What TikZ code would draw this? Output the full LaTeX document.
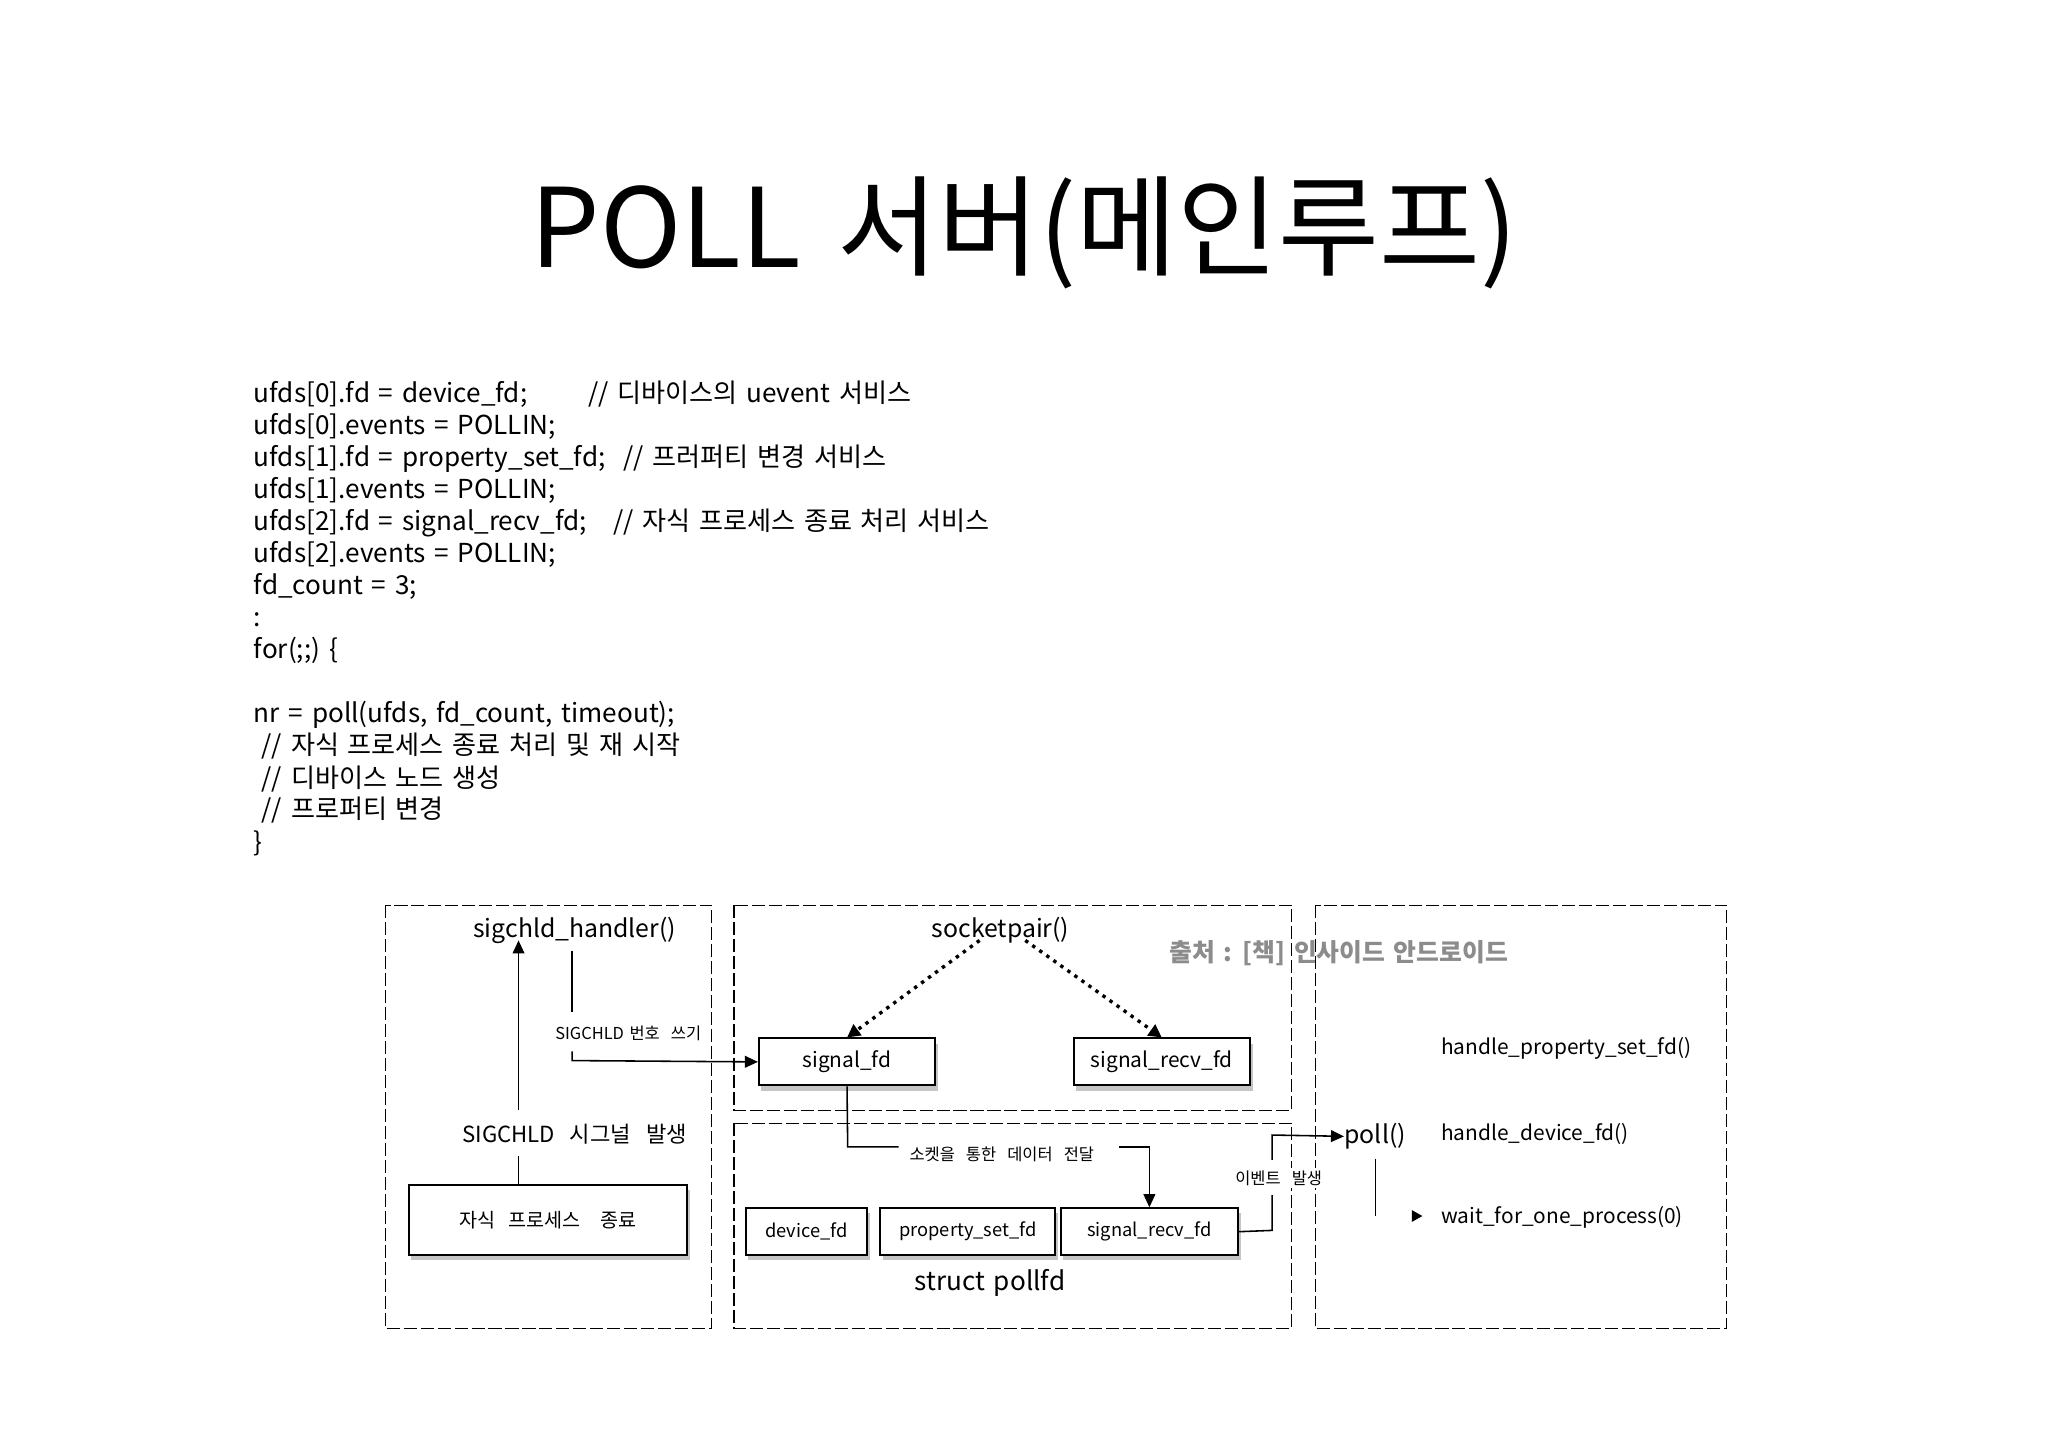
\documentclass[tikz,border=0pt]{standalone}
\usepackage{fontspec}
\setmainfont[WordSpace=1.5]{Noto Sans CJK KR}
\usetikzlibrary{shadows,arrows.meta}
\begin{document}
\begin{tikzpicture}[x=0.5pt,y=-0.5pt,
  grp/.style={draw,dash pattern=on 5pt off 1.5pt,line width=0.5pt},
  fdbox/.style={draw,fill=white,line width=0.7pt,drop shadow={opacity=0.45,shadow xshift=1pt,shadow yshift=-2pt},inner sep=0pt},
  code/.style={anchor=base west,font=\fontsize{10}{12}\selectfont,inner sep=0pt},
  lbl/.style={font=\fontsize{9.5}{11}\selectfont,inner sep=1pt},
  fdt/.style={font=\fontsize{8}{10}\selectfont},
  small/.style={font=\fontsize{6.3}{8}\selectfont,inner sep=1pt},
  ln/.style={line width=0.6pt},
  arr/.style={line width=0.6pt,-{Triangle[length=5pt,width=4.5pt]}}]
\useasboundingbox (0,0) rectangle (1568,1109);
\fill[white] (0,0) rectangle (1568,1109);
\node[font=\fontsize{42}{48}\selectfont,anchor=base] (title) at (784,205) {POLL 서버(메인루프)};
% code
\node[code] (c1) at (194,308) {ufds[0].fd = device\_fd;};
\node[code] (c1b) at (450,308) {// 디바이스의 uevent 서비스};
\node[code] (c2) at (194,333) {ufds[0].events = POLLIN;};
\node[code] (c3) at (194,357) {ufds[1].fd = property\_set\_fd;\ \ // 프러퍼티 변경 서비스};
\node[code] (c4) at (194,382) {ufds[1].events = POLLIN;};
\node[code] (c5) at (194,406) {ufds[2].fd = signal\_recv\_fd;};
\node[code] (c5b) at (469,406) {// 자식 프로세스 종료 처리 서비스};
\node[code] (c6) at (194,431) {ufds[2].events = POLLIN;};
\node[code] (c7) at (194,455) {fd\_count = 3;};
\node[code] (c8) at (194,480) {:};
\node[code] (c9) at (194,504) {for(;;) \{};
\node[code] (c10) at (194,553) {nr = poll(ufds, fd\_count, timeout);};
\node[code] (c11) at (200,578) {// 자식 프로세스 종료 처리 및 재 시작};
\node[code] (c12) at (200,603) {// 디바이스 노드 생성};
\node[code] (c13) at (200,627) {// 프로퍼티 변경};
\node[code] (c14) at (194,652) {\}};
% group boxes
\draw[grp] (295,693) rectangle (545,1017);
\draw[grp] (562,693) rectangle (989,850);
\draw[grp] (562,860) rectangle (989,1017);
\draw[grp] (1007,693) rectangle (1322,1017);
% watermark
\node[font=\bfseries\fontsize{9.5}{11}\selectfont,text=black!45] (wm) at (1025,730) {출처 : [책] 인사이드 안드로이드};
% left group
\node[lbl] (sh) at (440,712) {sigchld\_handler()};
\node[lbl,font=\fontsize{8.5}{10}\selectfont] (sg) at (440,868) {SIGCHLD\ \ 시그널\ \ 발생};
\node[fdbox,minimum width=106.5pt,minimum height=27pt,font=\fontsize{7.5}{9}\selectfont] (child) at (419.5,934) {자식\ \ 프로세스\ \ \ 종료};
\coordinate (up1) at (397,850);
\coordinate (up2) at (397,720);
\draw[arr] (up1) -- (up2);
\draw[ln] (397,885) -- (397,907);
\node[small] (wr) at (481,791) {SIGCHLD 번호\ \ 쓰기};
\draw[ln] (438,728) -- (438,775);
% socketpair group
\node[lbl] (sp) at (766,712) {socketpair()};
\node[fdbox,minimum width=67.5pt,minimum height=18pt,fdt] (sfd) at (648.5,813) {signal\_fd};
\node[fdbox,minimum width=67.5pt,minimum height=18pt,fdt] (srfd) at (889.5,813) {signal\_recv\_fd};
\draw[arr] (438,805) -- (438,812) -- (sfd.west);
\draw[dotted,line width=1.3pt,-{Triangle[length=5pt,width=5pt]}] (750,720) -- (sfd.north);
\draw[dotted,line width=1.3pt,-{Triangle[length=5pt,width=5pt]}] (785,720) -- (srfd.north);
% pollfd group
\node[fdbox,minimum width=46.5pt,minimum height=18pt,font=\fontsize{7}{9}\selectfont] (dfd) at (617.5,943) {device\_fd};
\node[fdbox,minimum width=67pt,minimum height=18pt,font=\fontsize{7}{9}\selectfont] (pfd) at (741,943) {property\_set\_fd};
\node[fdbox,minimum width=68pt,minimum height=18pt,font=\fontsize{7}{9}\selectfont] (rfd) at (880,943) {signal\_recv\_fd};
\node[font=\fontsize{10}{12}\selectfont] (spf) at (758,982) {struct pollfd};
\node[small] (dt) at (767,884) {소켓을\ \ 통한\ \ 데이터\ \ 전달};
\draw[ln] (sfd.south) -- (649,878) -- (688,878);
\draw[arr] (857,878) -- (880,878) -- (rfd.north);
\node[small,fill=white] (ev) at (979,902) {이벤트\ \ 발생};
\draw[ln] (rfd.east) -- (974,942) -- (974,915);
% right group
\node[lbl,anchor=west,inner sep=0pt] (poll) at (1029,870) {poll()};
\draw[arr] (974,888) -- (974,869) -- (poll.west);
\draw[ln] (1053,887) -- (1053,931);
\node[font=\fontsize{8}{10}\selectfont,anchor=west,inner sep=0pt] (h1) at (1103,803) {handle\_property\_set\_fd()};
\node[font=\fontsize{8}{10}\selectfont,anchor=west,inner sep=0pt] (h2) at (1103,868) {handle\_device\_fd()};
\node[font=\fontsize{8}{10}\selectfont,anchor=west,inner sep=0pt] (h3) at (1103,932) {wait\_for\_one\_process(0)};
\coordinate (tip) at (1089,931);
\fill (tip) -- ++(-8,-4.5) -- ++(0,9) -- cycle;
\end{tikzpicture}
\end{document}
